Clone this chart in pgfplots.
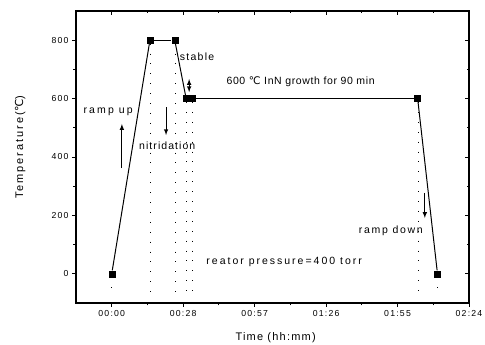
\documentclass[border=0pt]{standalone}
\usepackage{fontspec}
\setmainfont{Liberation Sans}[LetterSpace=14]
\newfontfamily\dejavu{DejaVu Sans}
\usepackage{pgfplots}
\pgfplotsset{compat=1.18}
\newcommand{\degc}{{\dejavu\addfontfeature{LetterSpace=0}℃}}
\newcommand{\ann}[1]{\fontsize{10.5}{12}\selectfont\addfontfeature{LetterSpace=#1}}
\begin{document}
\begin{tikzpicture}[x=1pt,y=1pt]
\path[use as bounding box] (-76,-42) rectangle (409,303);
\pgfplotsset{
  common/.style={
    at={(0,0)}, anchor=south west,
    scale only axis, width=393pt, height=292pt,
    xmin=-14.4, xmax=144, ymin=-100, ymax=900,
    xtick={0,28.8,57.6,86.4,115.2,144},
    ytick={0,200,400,600,800},
    minor x tick num=1, minor y tick num=1,
    axis line style={line width=1.3pt},
    major tick length=4pt, minor tick length=2.5pt,
    every tick/.style={black, line width=0.9pt},
  },
  dotl/.style={black, line width=1pt, dash pattern=on 0.9pt off 9pt},
  seg/.style={black, line width=1pt, shorten >=3.5pt, shorten <=3.5pt},
}
\begin{axis}[common,
    axis lines=box,
    tick align=outside,
    xtick pos=bottom, ytick pos=left,
    xticklabels={00:00,00:28,00:57,01:26,01:55,02:24},
    ticklabel style={font=\fontsize{8.7}{10}\selectfont},
    /pgf/number format/assume math mode=true,
    xlabel={Time (hh:mm)}, ylabel={Temperature(\degc)},
    xlabel style={font=\fontsize{11}{12}\selectfont\addfontfeature{LetterSpace=11},
      at={(axis description cs:0.508,0)}, anchor=center, yshift=-35pt},
    ylabel style={font=\fontsize{11}{12}\selectfont\addfontfeature{LetterSpace=18},
      at={(axis description cs:-0.142,0.533)}, anchor=center},
    clip=false,
]
% dotted guide lines
\addplot[dotl] coordinates {(0,-12) (0,-75)};
\addplot[dotl] coordinates {(15.6,788) (15.6,-65)};
\addplot[dotl] coordinates {(25.6,788) (25.6,-65)};
\addplot[dotl] coordinates {(30.0,588) (30.0,-85)};
\addplot[dotl] coordinates {(32.7,588) (32.7,-85)};
\addplot[dotl] coordinates {(123.5,588) (123.5,-85)};
\addplot[dotl] coordinates {(131.3,-12) (131.3,-75)};
% main profile: segments with gaps at the symbols
\addplot[seg] coordinates {(0,0) (15.4,800)};
\addplot[seg] coordinates {(15.4,800) (25.4,800)};
\addplot[seg] coordinates {(25.4,800) (30.0,600)};
\addplot[seg] coordinates {(32.5,600) (123.3,600)};
\addplot[seg] coordinates {(123.3,600) (131.3,0)};
\addplot[only marks, mark=square*, mark size=3pt, black]
  coordinates {(0,0) (15.4,800) (25.4,800) (30.0,600) (32.5,600) (123.3,600) (131.3,0)};
% annotations
\draw[-latex, line width=1pt] (axis cs:4.1,362) -- (axis cs:4.1,513);
\draw[-latex, line width=1pt] (axis cs:21.9,571) -- (axis cs:21.9,475);
\draw[latex-latex, line width=1pt] (axis cs:31.2,667) -- (axis cs:31.2,622);
\draw[-latex, line width=1pt] (axis cs:126.2,277) -- (axis cs:126.2,191);
\node[anchor=west, font=\ann{20}, inner sep=0pt] at (axis cs:-11.4,554) {ramp up};
\node[anchor=west, font=\ann{10}, inner sep=0pt] at (axis cs:11,438) {nitridation};
\node[anchor=west, font=\ann{12}, inner sep=0pt] at (axis cs:27.4,745) {stable};
\node[anchor=west, font=\ann{6}, inner sep=0pt] at (axis cs:46.2,657) {600 \degc{} InN growth for 90 min};
\node[anchor=east, font=\ann{16}, inner sep=0pt] at (axis cs:125.4,147) {ramp down};
\node[anchor=west, font=\ann{19}, inner sep=0pt] at (axis cs:38.1,41) {reator pressure=400 torr};
\end{axis}
\begin{axis}[common,
    axis lines=box, axis line style={draw=none},
    tick align=inside,
    xtick pos=top, ytick pos=right,
    xticklabels={}, yticklabels={},
]
\end{axis}
\end{tikzpicture}
\end{document}
